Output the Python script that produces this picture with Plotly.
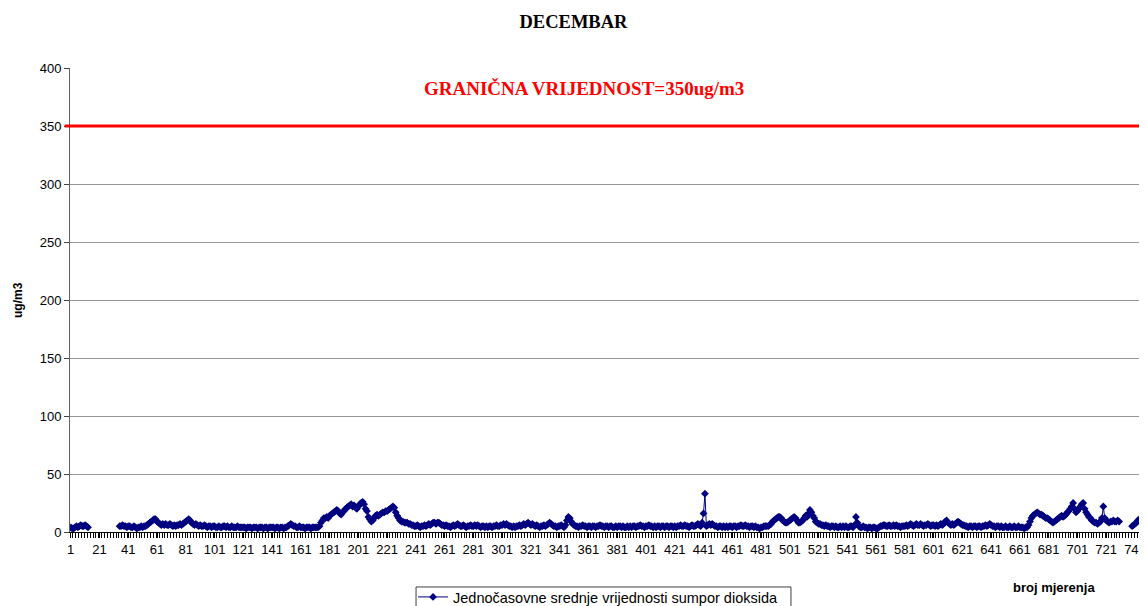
import plotly.graph_objects as go

N = None

so2 = [
    4, 3, 3, 4, 5, 4, 5, 6, 5, 5, 6, 5, 4, N, N, N, N, N, N, N,              # 1-20
    N, N, N, N, N, N, N, N, N, N, N, N, N, N, 5, 5, 6, 5, 5, 4,              # 21-40
    5, 5, 4, 4, 5, 4, 3, 4, 4, 5, 4, 5, 5, 6, 7, 8, 9, 10, 11, 11,           # 41-60
    9, 8, 7, 6, 7, 6, 7, 6, 6, 7, 6, 5, 6, 5, 6, 6, 7, 6, 7, 8,              # 61-80
    9, 10, 11, 10, 8, 7, 6, 7, 6, 5, 6, 5, 5, 6, 5, 4, 5, 5, 4, 5,           # 81-100
    5, 4, 4, 5, 4, 4, 5, 5, 4, 5, 4, 4, 5, 4, 4, 4, 5, 4, 4, 4,              # 101-120
    4, 4, 3, 4, 4, 4, 3, 4, 4, 4, 3, 4, 4, 4, 3, 4, 4, 3, 4, 4,              # 121-140
    4, 4, 3, 4, 4, 3, 4, 4, 3, 4, 4, 5, 6, 7, 6, 5, 5, 4, 4, 5,              # 141-160
    4, 4, 4, 3, 4, 4, 4, 3, 4, 4, 4, 4, 4, 5, 8, 10, 12, 12, 13, 12,         # 161-180
    14, 15, 16, 17, 18, 19, 18, 16, 15, 17, 18, 20, 21, 22, 23, 24, 22, 23, 21, 20,  # 181-200
    22, 24, 25, 26, 24, 20, 18, 13, 11, 9, 10, 12, 14, 15, 14, 15, 16, 17, 17, 18,   # 201-220
    18, 19, 20, 21, 22, 21, 17, 14, 12, 10, 9, 9, 8, 8, 8, 7, 7, 6, 6, 5,    # 221-240
    5, 6, 5, 4, 5, 5, 6, 5, 6, 7, 6, 7, 8, 8, 7, 8, 8, 7, 6, 6,              # 241-260
    5, 6, 5, 5, 4, 5, 6, 5, 6, 7, 6, 5, 5, 6, 5, 4, 5, 5, 6, 5,              # 261-280
    5, 6, 5, 6, 5, 4, 5, 5, 4, 5, 4, 5, 5, 4, 5, 5, 6, 5, 5, 6,              # 281-300
    6, 7, 6, 7, 6, 5, 5, 4, 5, 4, 5, 5, 6, 5, 6, 7, 6, 7, 8, 7,              # 301-320
    6, 7, 6, 5, 6, 5, 4, 5, 5, 6, 5, 6, 7, 8, 7, 6, 5, 5, 4, 5,              # 321-340
    5, 6, 5, 4, 6, 10, 13, 12, 9, 7, 6, 5, 5, 4, 5, 5, 6, 5, 5, 4,           # 341-360
    5, 5, 4, 5, 5, 4, 5, 5, 6, 5, 5, 4, 5, 5, 4, 5, 5, 4, 4, 5,              # 361-380
    4, 5, 5, 4, 5, 4, 4, 5, 4, 5, 4, 5, 5, 4, 5, 5, 6, 5, 5, 4,              # 381-400
    5, 5, 6, 5, 5, 4, 5, 4, 5, 5, 4, 5, 5, 4, 5, 5, 4, 5, 5, 4,              # 401-420
    5, 4, 5, 5, 6, 5, 5, 6, 5, 5, 4, 5, 6, 5, 5, 6, 7, 6, 5, 8,              # 421-440
    16, 33, 5, 6, 7, 6, 7, 6, 5, 5, 4, 5, 5, 4, 5, 4, 5, 4, 5, 5,            # 441-460
    4, 5, 5, 4, 5, 5, 6, 5, 5, 6, 5, 5, 4, 5, 5, 4, 5, 4, 4, 3,              # 461-480
    4, 4, 5, 5, 5, 5, 6, 7, 9, 10, 11, 12, 13, 13, 12, 10, 9, 8, 8, 9,       # 481-500
    10, 11, 12, 13, 12, 10, 8, 8, 9, 10, 12, 14, 13, 16, 19, 17, 14, 12, 9, 8,       # 501-520
    7, 7, 6, 6, 5, 6, 5, 5, 4, 5, 5, 4, 5, 4, 4, 5, 4, 5, 4, 5,              # 521-540
    4, 4, 5, 5, 4, 6, 13, 8, 5, 4, 4, 5, 4, 4, 3, 4, 4, 3, 4, 4,             # 541-560
    3, 3, 4, 5, 5, 6, 6, 5, 5, 6, 5, 5, 6, 5, 6, 5, 5, 4, 5, 5,              # 561-580
    5, 6, 5, 6, 7, 6, 5, 6, 7, 6, 6, 7, 6, 5, 6, 6, 7, 6, 5, 6,              # 581-600
    6, 5, 6, 5, 6, 7, 6, 7, 9, 10, 8, 7, 6, 7, 6, 7, 8, 9, 8, 7,             # 601-620
    6, 6, 5, 5, 4, 5, 5, 4, 5, 5, 4, 5, 5, 4, 5, 5, 6, 5, 6, 7,              # 621-640
    6, 5, 5, 4, 5, 5, 4, 5, 4, 4, 5, 4, 4, 5, 4, 4, 5, 4, 4, 5,              # 641-660
    4, 4, 4, 3, 4, 4, 6, 9, 12, 14, 15, 16, 17, 16, 15, 15, 14, 13, 12, 12,  # 661-680
    11, 10, 9, 8, 9, 10, 11, 12, 13, 14, 13, 14, 15, 17, 18, 20, 22, 25, 20, 17,     # 681-700
    18, 20, 22, 24, 25, 20, 17, 15, 13, 12, 10, 9, 8, 8, 7, 8, 9, 12, 22, 12,        # 701-720
    10, 9, 8, 9, 9, 10, 9, 9, 10, 9, N, N, N, N, N, N, N, N, 5, 6,           # 721-740
    7, 8, 10, 11,                                                             # 741-744
]
mjerenja = list(range(1, len(so2) + 1))
x_ticks = list(range(1, 742, 20))
y_ticks = list(range(0, 401, 50))
granica = 350

fig = go.Figure()

fig.add_trace(go.Scatter(
    x=mjerenja, y=so2, mode="lines+markers",
    name="Jednočasovne srednje vrijednosti sumpor dioksida",
    line=dict(color="#000080", width=1),
    marker=dict(symbol="diamond", size=6, color="#000080"),
))

# limit value line, runs a little past the plot area like in the original
fig.add_shape(type="line", xref="paper", yref="y", x0=-0.005, x1=1.01,
              y0=granica, y1=granica, line=dict(color="#ff0000", width=3))

# legend frame (runs off the bottom of the picture, as in the original)
fig.add_shape(type="rect", xref="paper", yref="paper", x0=0.3234, x1=0.6738,
              y0=-0.1185, y1=-0.25, line=dict(color="#404040", width=1))

fig.add_annotation(text="<b>GRANIČNA VRIJEDNOST=350ug/m3</b>", xref="paper", yref="paper",
                   x=0.48, y=0.955, xanchor="center", yanchor="middle", showarrow=False,
                   font=dict(family="Liberation Serif", size=19, color="#ff0000"))
fig.add_annotation(text="<b>broj mjerenja</b>", xref="paper", yref="paper",
                   x=0.92, y=-0.12, xanchor="center", yanchor="middle", showarrow=False,
                   font=dict(family="Liberation Sans", size=13, color="black"))
fig.add_annotation(text="<b>ug/m3</b>", xref="paper", yref="paper",
                   x=-0.0486, y=0.5, xanchor="center", yanchor="middle",
                   textangle=-90, showarrow=False,
                   font=dict(family="Liberation Sans", size=12, color="black"))

# the page body adds an 8px offset, so margins are trimmed by 8 on top/left
fig.update_layout(
    width=1147, height=606,
    margin=dict(l=62, r=15, t=60, b=82, autoexpand=False),
    paper_bgcolor="white", plot_bgcolor="white",
    title=dict(text="<b>DECEMBAR</b>", x=0.493, xanchor="center", y=0.9785, yanchor="middle",
               font=dict(family="Liberation Serif", size=18.5, color="black")),
    font=dict(family="Liberation Sans", size=13, color="black"),
    showlegend=True,
    legend=dict(orientation="h", x=0.3206, xanchor="left", y=-0.1056, yanchor="top",
                borderwidth=0, bgcolor="rgba(0,0,0,0)",
                font=dict(family="Liberation Sans", size=14.5, color="black")),
    xaxis=dict(range=[0.5, 744.5], tickmode="array", tickvals=x_ticks,
               ticks="outside", ticklen=5, tickcolor="black", automargin=False,
               ticklabeloverflow="allow",
               showgrid=False, zeroline=False, showline=True, linecolor="black",
               minor=dict(ticks="outside", ticklen=5, tickcolor="black",
                          tickmode="linear", tick0=0.5, dtick=2),
               tickfont=dict(size=13)),
    yaxis=dict(range=[0, 400], tickmode="array", tickvals=y_ticks,
               ticks="outside", ticklen=5, tickcolor="#404040", automargin=False,
               showgrid=True, gridcolor="#969696", gridwidth=1,
               zeroline=False, showline=True, linecolor="#606060", mirror=True,
               tickfont=dict(size=13)),
)

fig.write_html("out.html")
